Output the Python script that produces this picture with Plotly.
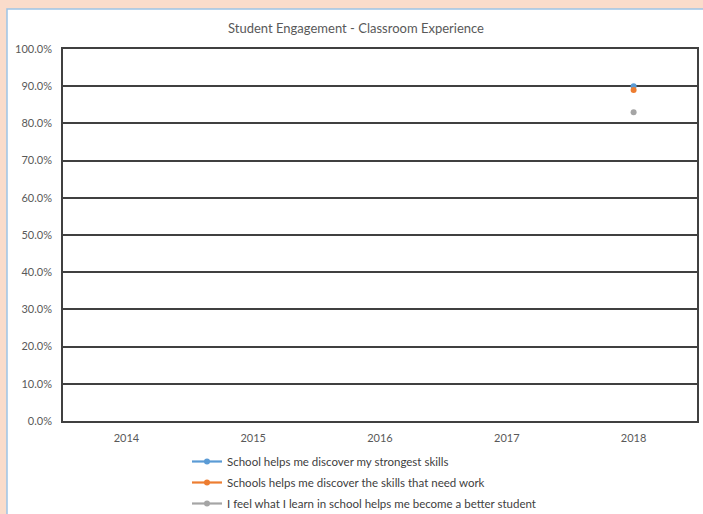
import plotly.graph_objects as go

years = ["2014", "2015", "2016", "2017", "2018"]
series_names = [
    "School helps me discover my strongest skills",
    "Schools helps me discover the skills that need work",
    "I feel what I learn in school helps me become a better student",
]
strongest = [None, None, None, None, 0.90]
need_work = [None, None, None, None, 0.89]
better_student = [None, None, None, None, 0.83]
colors = ["#5B9BD5", "#ED7D31", "#A5A5A5"]

W, H = 703, 514
L, R, T, B = 63, 6, 49, 93
pw, ph = W - L - R, H - T - B


def px2x(p):
    return (p - L) / pw


def py2y(p):
    return (H - B - p) / ph


legend_ids = ["legend", "legend2", "legend3"]
legend_tops = [447, 468, 489]

fig = go.Figure()
for name, vals, c, lg in zip(series_names, [strongest, need_work, better_student], colors, legend_ids):
    fig.add_trace(go.Scatter(
        x=years, y=vals, name=name, mode="lines+markers", legend=lg,
        line=dict(color=c, width=2.2), marker=dict(color=c, size=6),
    ))

fig.add_shape(type="rect", xref="paper", yref="paper",
              x0=px2x(7), x1=px2x(740), y0=py2y(540), y1=py2y(9),
              fillcolor="white", line=dict(color="#9DC3E6", width=1.5), layer="below")

legend_common = dict(orientation="v", xanchor="left", yanchor="top",
                     font=dict(size=11.5, color="#404040"), bgcolor="rgba(0,0,0,0)",
                     itemwidth=30)

layout_legends = {}
for lg, top in zip(legend_ids, legend_tops):
    layout_legends[lg] = dict(legend_common, x=px2x(187), y=py2y(top))

fig.update_layout(
    width=W, height=H,
    margin=dict(l=L, r=R, t=T, b=B, autoexpand=False),
    paper_bgcolor="#FADCCB",
    plot_bgcolor="rgba(0,0,0,0)",
    font=dict(family="Lato, Carlito, Calibri, sans-serif", color="#595959", size=11),
    title=dict(text="Student Engagement - Classroom Experience", x=px2x(356), xref="paper",
               xanchor="center", y=1 - 28 / H, yref="container", yanchor="middle",
               font=dict(size=13, color="#595959")),
    showlegend=True,
    xaxis=dict(type="category", range=[-0.5, 4.5], showgrid=False, automargin=False,
               showline=True, linecolor="#404040", linewidth=1.5, mirror=True,
               ticks="", ticklabelstandoff=6, tickfont=dict(size=11, color="#595959")),
    yaxis=dict(range=[0, 1.0], dtick=0.1, tickformat=".1%", showgrid=True, automargin=False,
               gridcolor="#404040", gridwidth=1.5, zeroline=False,
               showline=True, linecolor="#404040", linewidth=1.5, mirror=True,
               ticks="", ticklabelstandoff=7, tickfont=dict(size=11, color="#595959")),
    **layout_legends,
)

fig.write_html(
    "out.html",
    config={"displayModeBar": False},
    post_script="document.body.style.margin='0';document.body.style.overflow='hidden';"
                "document.body.style.background='#FADCCB';",
)
